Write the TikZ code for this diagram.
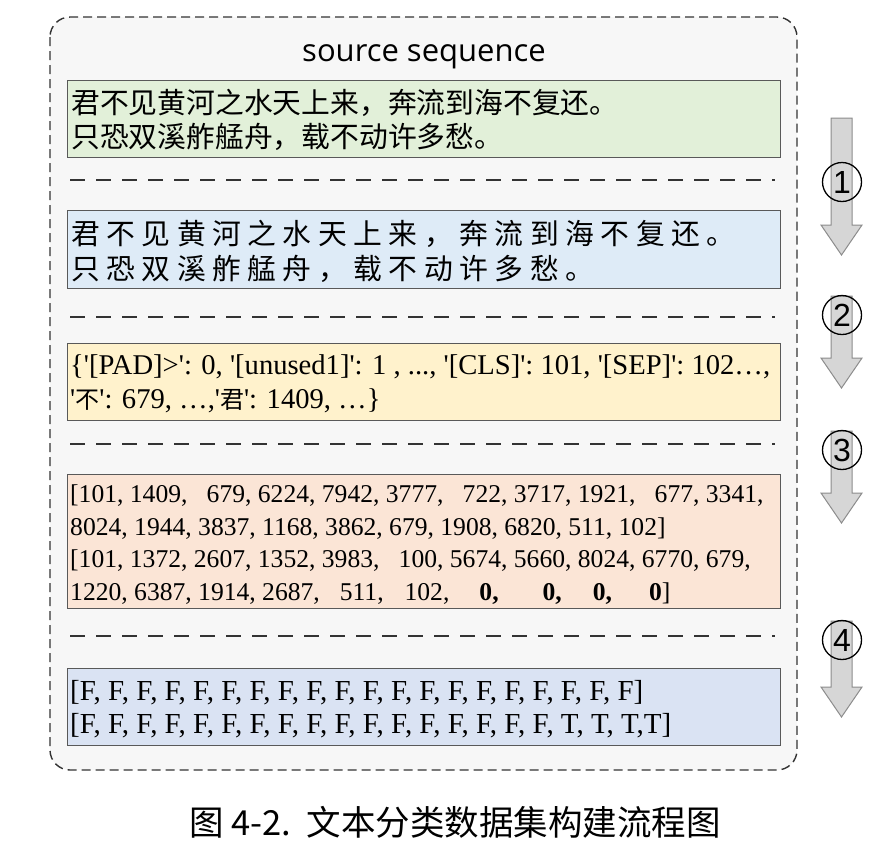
\documentclass[tikz,border=0pt]{standalone}
\usepackage{fontspec}
\newfontfamily\tnr{Liberation Serif}
\newfontfamily\cjk{Noto Sans CJK SC}
\newfontfamily\titlefont{Open Sans}
\newfontfamily\digitfont{Liberation Sans}
\newcommand\fpad{\hspace{0.5em}}
\definecolor{gfill}{HTML}{E2F0D9}
\definecolor{bfill}{HTML}{DEEBF7}
\definecolor{yfill}{HTML}{FFF2CC}
\definecolor{ofill}{HTML}{FBE5D6}
\definecolor{pfill}{HTML}{DAE3F3}
\definecolor{outerfill}{HTML}{F7F7F7}
\begin{document}
\begin{tikzpicture}[x=1pt,y=-1pt,
  outerbox/.style={draw=black!80, line width=1.4pt, dash pattern=on 9pt off 5pt, rounded corners=20pt, fill=outerfill},
  box/.style={draw=black!65, line width=1.1pt, inner sep=0pt, anchor=north west, minimum width=713pt},
  sepline/.style={draw=black!80, line width=1.2pt, dash pattern=on 15pt off 11pt},
  cjkline/.style={anchor=base west, inner sep=0pt, font={\cjk\fontsize{28.8}{28.8}\selectfont}},
  spacedline/.style={anchor=base west, inner sep=0pt, font={\cjk\fontsize{28.8}{28.8}\selectfont\spaceskip=6.5pt\relax}},
  dictline/.style={anchor=base west, inner sep=0pt, font={\tnr\fontsize{28.6}{28.6}\selectfont}},
  numline/.style={anchor=base west, inner sep=0pt, font={\tnr\fontsize{25.6}{25.6}\selectfont}},
  maskline/.style={anchor=base west, inner sep=0pt, font={\tnr\fontsize{29}{29}\selectfont}},
  stepno/.style={circle, draw=black, line width=1.3pt, minimum size=39pt, inner sep=0pt, font={\digitfont\fontsize{32}{32}\selectfont}},
  grayarrow/.style={fill=black!16, draw=black!45, line width=1pt}
]
\useasboundingbox (0,0) rectangle (890,847);

% outer dashed container
\draw[outerbox] (50,17) rectangle (797,770);
\node[anchor=base, inner sep=0pt, font={\titlefont\fontsize{31}{31}\selectfont}] (title) at (424,61) {source sequence};

% boxes
\node[box, fill=gfill, minimum height=77pt] (green) at (67,80) {};
\node[box, fill=bfill, minimum height=78pt] (blue) at (67,210) {};
\node[box, fill=yfill, minimum height=77pt] (yellow) at (67,343) {};
\node[box, fill=ofill, minimum height=134pt] (orange) at (67,474) {};
\node[box, fill=pfill, minimum height=77pt] (mask) at (67,668) {};

% separators
\draw[sepline] (70,180) -- (775,180);
\draw[sepline] (70,317) -- (775,317);
\draw[sepline] (70,444) -- (775,444);
\draw[sepline] (70,636) -- (775,636);

% texts
\node[cjkline] (g1) at (71,113) {君不见黄河之水天上来，奔流到海不复还。};
\node[cjkline] (g2) at (71,147) {只恐双溪舴艋舟，载不动许多愁。};

\node[spacedline] (b1) at (71,244) {君 不 见 黄 河 之 水 天 上 来 ， 奔 流 到 海 不 复 还 。};
\node[spacedline] (b2) at (71,279) {只 恐 双 溪 舴 艋 舟 ， 载 不 动 许 多 愁 。};

\node[dictline] (y1) at (70,374) {\{'[PAD]>': 0, '[unused1]': 1 , ..., '[CLS]': 101, '[SEP]': 102…,};
\node[dictline] (y2) at (70,408) {'{\cjk\fontsize{24}{24}\selectfont 不}': 679, …,'{\cjk\fontsize{24}{24}\selectfont 君}': 1409, …\}};

\node[numline] (o1) at (70,502.5) {[101, 1409,\fpad{} 679, 6224, 7942, 3777,\fpad{} 722, 3717, 1921,\fpad{} 677, 3341,};
\node[numline] (o2) at (70,535.5) {8024, 1944, 3837, 1168, 3862, 679, 1908, 6820, 511, 102]};
\node[numline] (o3) at (70,567.5) {[101, 1372, 2607, 1352, 3983,\fpad{} 100, 5674, 5660, 8024, 6770, 679,};
\node[numline] (o4) at (70,600) {1220, 6387, 1914, 2687,\hspace{20pt}511,\hspace{21pt}102,\hspace{30pt}\textbf{0,}\hspace{44pt}\textbf{0,}\hspace{31pt}\textbf{0,}\hspace{37pt}\textbf{0}]};

\node[maskline] (m1) at (70,700) {[F, F, F, F, F, F, F, F, F, F, F, F, F, F, F, F, F, F, F, F]};
\node[maskline] (m2) at (70,733) {[F, F, F, F, F, F, F, F, F, F, F, F, F, F, F, F, F, T, T, T,T]};

% step arrows
\draw[grayarrow] (831,118) -- (852,118) -- (852,225) -- (862,225) -- (841.5,255) -- (821,225) -- (831,225) -- cycle;
\draw[grayarrow] (831,296) -- (852,296) -- (852,358) -- (862,358) -- (841.5,388) -- (821,358) -- (831,358) -- cycle;
\draw[grayarrow] (831,431) -- (852,431) -- (852,493) -- (862,493) -- (841.5,523) -- (821,493) -- (831,493) -- cycle;
\draw[grayarrow] (831,621) -- (852,621) -- (852,687) -- (862,687) -- (841.5,717) -- (821,687) -- (831,687) -- cycle;

\node[stepno] (s1) at (842,182) {1};
\node[stepno] (s2) at (842,315) {2};
\node[stepno] (s3) at (842,450) {3};
\node[stepno] (s4) at (842,640) {4};

% caption
\node[anchor=base, inner sep=0pt, font={\cjk\fontsize{34.5}{34.5}\selectfont}] (caption) at (455,835) {图 4-2.\hspace{15pt}文本分类数据集构建流程图};
\end{tikzpicture}
\end{document}
